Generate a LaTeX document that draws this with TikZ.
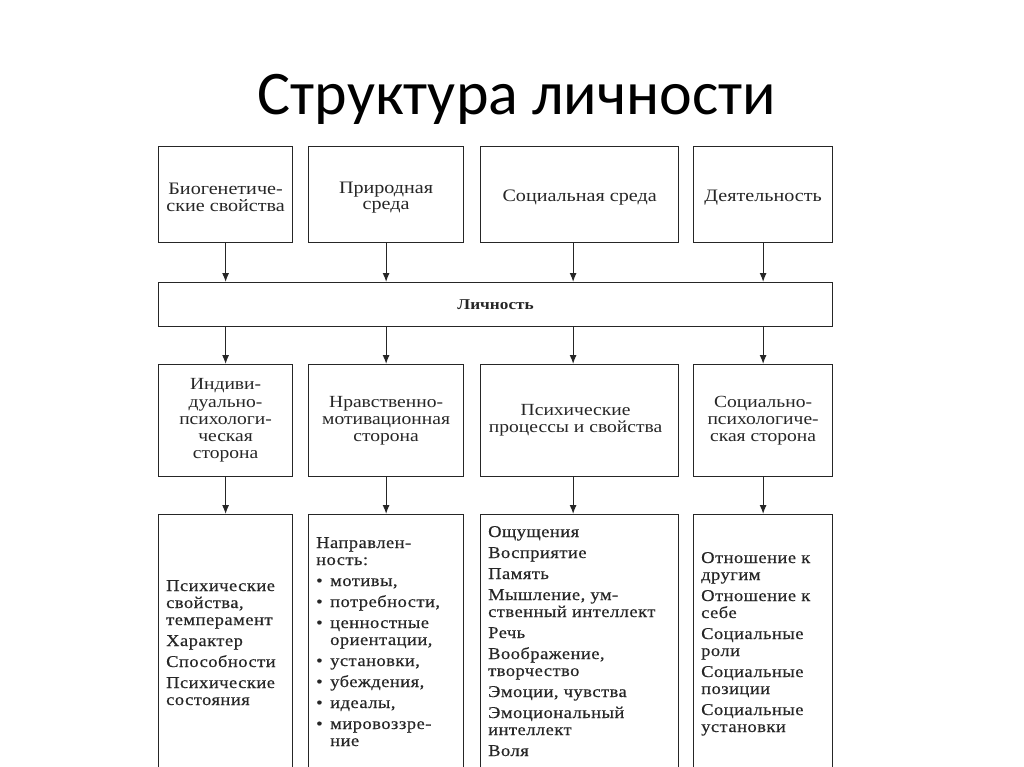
\documentclass[tikz,border=0pt]{standalone}
\usepackage{fontspec}
\setmainfont{Liberation Serif}
\newfontfamily\titlefont{Carlito}
\newfontfamily\hdrfont[FakeStretch=1.15]{Liberation Serif}
\newfontfamily\listfont[FakeStretch=1.12,LetterSpace=3,FakeBold=0.4]{Liberation Serif}
\usetikzlibrary{arrows.meta}
\newcommand\bl{\makebox[14pt][l]{•}}
\newcommand\ind{\hspace*{14pt}}
\newcommand\col[1]{\begin{tabular}[t]{@{}l@{}}#1\end{tabular}}
\begin{document}
\begin{tikzpicture}[x=1pt,y=-1pt,
  box/.style={draw=black!85, line width=1.2pt, inner sep=0pt, anchor=north west},
  arr/.style={draw=black!85, line width=1.1pt, -{Latex[length=9pt,width=7pt]}},
  hdrA/.style={font=\hdrfont\fontsize{17.5}{16.5}\selectfont, align=center, text=black!85},
  hdrB/.style={font=\hdrfont\fontsize{17}{17.2}\selectfont, align=center, text=black!85},
  lst/.style={font=\listfont\fontsize{16.5}{17}\selectfont, anchor=base west, inner sep=0pt, text=black!85}]
\clip (0,0) rectangle (1024,767);
\fill[white] (0,0) rectangle (1024,767);

\node[font=\titlefont\fontsize{62}{62}\selectfont, anchor=base, inner sep=0pt] (title) at (517,115) {Структура личности};

% row 1
\node[box, minimum width=134pt, minimum height=96pt] (a1) at (158,146) {};
\node[box, minimum width=155pt, minimum height=96pt] (a2) at (308,146) {};
\node[box, minimum width=198pt, minimum height=96pt] (a3) at (480,146) {};
\node[box, minimum width=139pt, minimum height=96pt] (a4) at (693,146) {};
\node[hdrA] (ta1) at ([yshift=-3pt]a1.center) {Биогенетиче-\\ские свойства};
\node[hdrA] (ta2) at ([yshift=-3pt]a2.center) {Природная\\среда};
\node[hdrA] (ta3) at ([yshift=-3pt]a3.center) {Социальная среда};
\node[hdrA] (ta4) at ([yshift=-3pt]a4.center) {Деятельность};

% bar
\node[box, minimum width=674pt, minimum height=44pt] (bar) at (158,282) {};
\node[font=\hdrfont\bfseries\fontsize{15}{15}\selectfont, text=black!85] (tbar) at (bar.center) {Личность};

% row 2
\node[box, minimum width=134pt, minimum height=112pt] (b1) at (158,364) {};
\node[box, minimum width=155pt, minimum height=112pt] (b2) at (308,364) {};
\node[box, minimum width=198pt, minimum height=112pt] (b3) at (480,364) {};
\node[box, minimum width=139pt, minimum height=112pt] (b4) at (693,364) {};
\node[hdrB] (tb1) at (b1) {Индиви-\\дуально-\\психологи-\\ческая\\сторона};
\node[hdrB] (tb2) at (b2) {Нравственно-\\мотивационная\\сторона};
\node[hdrB] (tb3) at ([xshift=-4pt]b3.center) {Психические\\процессы и свойства};
\node[hdrB] (tb4) at (b4) {Социально-\\психологиче-\\ская сторона};

% row 3
\node[box, minimum width=134pt, minimum height=300pt] (c1) at (158,514) {};
\node[box, minimum width=155pt, minimum height=300pt] (c2) at (308,514) {};
\node[box, minimum width=198pt, minimum height=300pt] (c3) at (480,514) {};
\node[box, minimum width=139pt, minimum height=300pt] (c4) at (693,514) {};

\node[lst] (tc1) at (166,591) {\col{Психические\\свойства,\\темперамент\\[4pt]Характер\\[4pt]Способности\\[4pt]Психические\\состояния}};
\node[lst] (tc2) at (316,548) {\col{Направлен-\\ность:\\[4pt]\bl мотивы,\\[4pt]\bl потребности,\\[4pt]\bl ценностные\\\ind ориентации,\\[4pt]\bl установки,\\[4pt]\bl убеждения,\\[4pt]\bl идеалы,\\[4pt]\bl мировоззре-\\\ind ние}};
\node[lst] (tc3) at (488,537) {\col{Ощущения\\[4pt]Восприятие\\[4pt]Память\\[4pt]Мышление, ум-\\ственный интеллект\\[4pt]Речь\\[4pt]Воображение,\\творчество\\[4pt]Эмоции, чувства\\[4pt]Эмоциональный\\интеллект\\[4pt]Воля}};
\node[lst] (tc4) at (701,563) {\col{Отношение к\\другим\\[4pt]Отношение к\\себе\\[4pt]Социальные\\роли\\[4pt]Социальные\\позиции\\[4pt]Социальные\\установки}};

% arrows row1 -> bar
\draw[arr] (a1.south) -- (a1.south |- bar.north);
\draw[arr] (a2.south) -- (a2.south |- bar.north);
\draw[arr] ([xshift=-6.5pt]a3.south) -- ([xshift=-6.5pt]a3.south |- bar.north);
\draw[arr] (a4.south) -- (a4.south |- bar.north);
% bar -> row2
\draw[arr] (b1.north |- bar.south) -- (b1.north);
\draw[arr] (b2.north |- bar.south) -- (b2.north);
\draw[arr] ([xshift=-6.5pt]b3.north |- bar.south) -- ([xshift=-6.5pt]b3.north);
\draw[arr] (b4.north |- bar.south) -- (b4.north);
% row2 -> row3
\draw[arr] (b1.south) -- (c1.north);
\draw[arr] (b2.south) -- (c2.north);
\draw[arr] ([xshift=-6.5pt]b3.south) -- ([xshift=-6.5pt]c3.north);
\draw[arr] (b4.south) -- (c4.north);
\end{tikzpicture}
\end{document}
